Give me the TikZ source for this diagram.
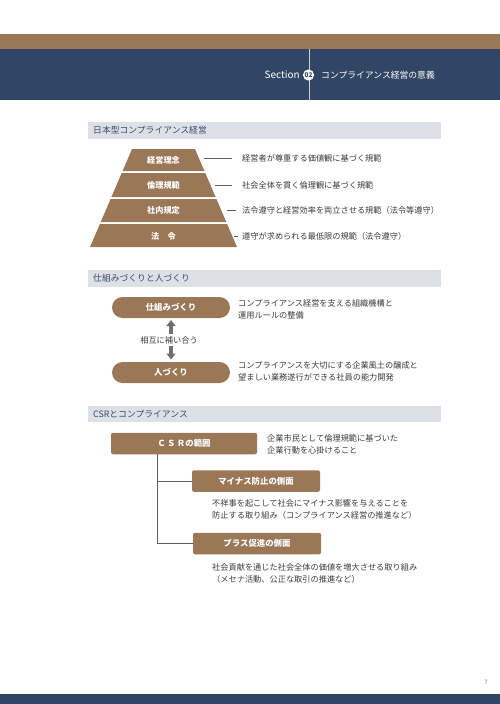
\documentclass[tikz,border=0pt]{standalone}
\usepackage{fontspec}
\setmainfont{Noto Sans CJK JP}
\usetikzlibrary{arrows.meta}
\definecolor{navy}{HTML}{314565}
\definecolor{brownb}{HTML}{9A7757}
\definecolor{hdrgray}{HTML}{DDE0E7}
\definecolor{hdrtxt}{HTML}{3E4B66}
\definecolor{bodytxt}{HTML}{3A3A3A}
\definecolor{arrowgray}{HTML}{6F6F6F}
\definecolor{linegray}{HTML}{5E5E5E}
\tikzset{
  body/.style={anchor=west, inner sep=0pt, text=bodytxt, font=\fontsize{8.2}{12}\selectfont, align=left},
  hdr/.style={anchor=west, inner sep=0pt, text=hdrtxt, font=\fontsize{8.8}{10}\selectfont},
  tierlbl/.style={inner sep=0pt, text=white, font=\bfseries\fontsize{8.2}{10}\selectfont},
  pill/.style={fill=brownb, rounded corners=10.5pt, minimum width=118pt, minimum height=21pt, inner sep=0pt, text=white, font=\bfseries\fontsize{8.4}{10}\selectfont},
  csrbox/.style={fill=brownb, rounded corners=2pt, inner sep=0pt, text=white, font=\bfseries\fontsize{8.4}{10}\selectfont, minimum height=21.5pt},
  tick/.style={draw=linegray, line width=0.6pt},
  conn/.style={draw=linegray, line width=0.9pt},
  dblarrow/.style={draw=arrowgray, line width=3.5pt, -{Triangle[width=9pt,length=6pt]}},
}
\begin{document}
\begin{tikzpicture}[x=1pt,y=-1pt]
\useasboundingbox (0,0) rectangle (500,704);
% top bands
\fill[brownb] (0,34) rectangle (500,49);
\fill[navy] (0,49) rectangle (500,100);
\draw[white!75!navy, line width=0.7pt] (309,49) -- (309,100);
\fill[white] (308.5,75) circle (5.6);
\node[inner sep=0pt, text=navy, font=\bfseries\fontsize{6.5}{7}\selectfont] (num) at (308.5,75.2) {02};
\node[anchor=east, inner sep=0pt, text=white, font=\fontsize{10}{12}\selectfont] (sec) at (300,75) {Section};
\node[anchor=west, inner sep=0pt, text=white, font=\fontsize{8.8}{10}\selectfont] (ttl) at (321,75) {コンプライアンス経営の意義};
% bottom band
\fill[navy] (0,694) rectangle (500,704);
\node[inner sep=0pt, text=gray, font=\fontsize{6}{7}\selectfont] (pg) at (486,682) {7};

% ---------- Section 1
\fill[hdrgray] (88,122) rectangle (441,139);
\node[hdr] (h1) at (93,130.5) {日本型コンプライアンス経営};
\fill[brownb] (132,149) -- (195,149) -- (204.4,171) -- (122.6,171) -- cycle;
\fill[brownb] (121.7,173) -- (205.3,173) -- (215.6,197) -- (111.4,197) -- cycle;
\fill[brownb] (110.6,199) -- (216.4,199) -- (226.3,222) -- (100.7,222) -- cycle;
\fill[brownb] (99.9,224) -- (227.1,224) -- (237,247) -- (90,247) -- cycle;
\node[tierlbl] (t1) at (163.5,160) {経営理念};
\node[tierlbl] (t2) at (163.5,185) {倫理規範};
\node[tierlbl] (t3) at (163.5,210.5) {社内規定};
\node[tierlbl] (t4) at (163.5,236) {法\hspace{1em}令};
\coordinate (e1) at (204,158); \coordinate (f1) at (232,158);
\coordinate (e2) at (215,185); \coordinate (f2) at (232,185);
\coordinate (e3) at (227,210); \coordinate (f3) at (236,210);
\coordinate (e4) at (234,236); \coordinate (f4) at (237.5,236);
\draw[tick] (e1) -- (f1);
\draw[tick] (e2) -- (f2);
\draw[tick] (e3) -- (f3);
\draw[tick] (e4) -- (f4);
\node[body] (d1) at (242,158) {経営者が尊重する価値観に基づく規範};
\node[body] (d2) at (242,185) {社会全体を貫く倫理観に基づく規範};
\node[body] (d3) at (242,210) {法令遵守と経営効率を両立させる規範（法令等遵守）};
\node[body] (d4) at (242,236) {遵守が求められる最低限の規範（法令遵守）};

% ---------- Section 2
\fill[hdrgray] (88,270) rectangle (441,287);
\node[hdr] (h2) at (93,278.5) {仕組みづくりと人づくり};
\node[pill] (p1) at (171,307.5) {仕組みづくり};
\node[pill] (p2) at (171,372.5) {人づくり};
\node[inner sep=0pt, text=bodytxt, font=\fontsize{8.2}{10}\selectfont] (mut) at (169,340) {相互に補い合う};
\coordinate (a1s) at (171,333.5); \coordinate (a1e) at (171,320);
\coordinate (a2s) at (171,345.5); \coordinate (a2e) at (171,359.5);
\draw[dblarrow] (a1s) -- (a1e);
\draw[dblarrow] (a2s) -- (a2e);
\node[body] (s1) at (238,309) {コンプライアンス経営を支える組織機構と\\運用ルールの整備};
\node[body] (s2) at (238,371.5) {コンプライアンスを大切にする企業風土の醸成と\\望ましい業務遂行ができる社員の能力開発};

% ---------- Section 3
\fill[hdrgray] (88,406) rectangle (441,422);
\node[hdr] (h3) at (93,414) {CSRとコンプライアンス};
\node[csrbox, minimum width=146pt] (c1) at (184,443.5) {Ｃ\,Ｓ\,Ｒの範囲};
\node[csrbox, minimum width=128pt] (c2) at (256,481) {マイナス防止の側面};
\node[csrbox, minimum width=128pt] (c3) at (257,543.5) {プラス促進の側面};
\coordinate (v0) at (157,454.25);
\coordinate (v1) at (157,481);
\coordinate (v2) at (157,543.5);
\draw[conn] (v0) -- (v2) -- (c3.west);
\draw[conn] (v1) -- (c2.west);
\node[body] (r1) at (267,444.5) {企業市民として倫理規範に基づいた\\企業行動を心掛けること};
\node[body] (r2) at (212,509) {不祥事を起こして社会にマイナス影響を与えることを\\防止する取り組み（コンプライアンス経営の推進など）};
\node[body] (r3) at (212,573.5) {社会貢献を通じた社会全体の価値を増大させる取り組み\\（メセナ活動、公正な取引の推進など）};
\end{tikzpicture}
\end{document}
